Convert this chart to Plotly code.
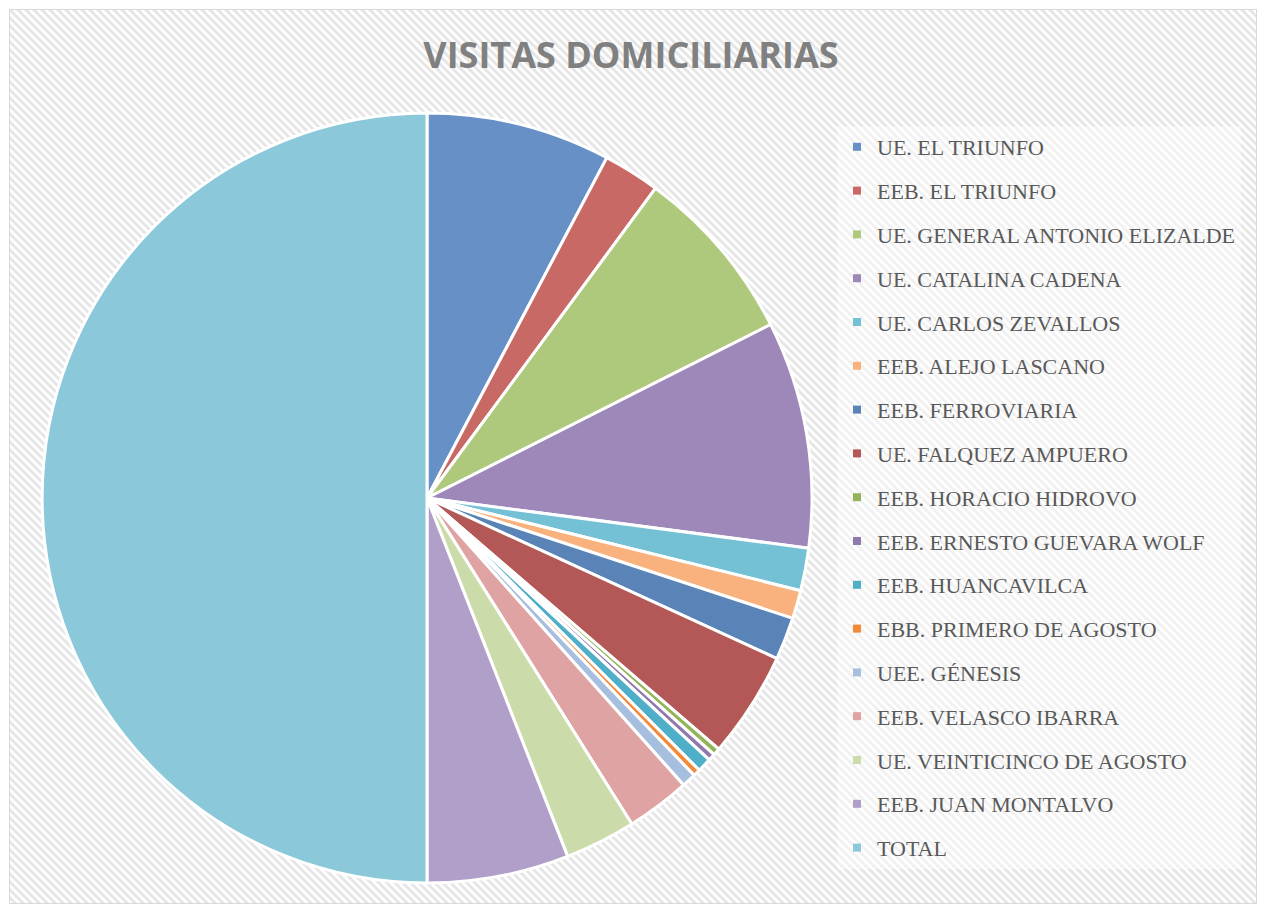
import base64
import plotly.graph_objects as go

categories = [
    "UE. EL TRIUNFO", "EEB. EL TRIUNFO", "UE. GENERAL ANTONIO ELIZALDE",
    "UE. CATALINA CADENA", "UE. CARLOS ZEVALLOS", "EEB. ALEJO LASCANO",
    "EEB. FERROVIARIA", "UE. FALQUEZ AMPUERO", "EEB. HORACIO HIDROVO",
    "EEB. ERNESTO GUEVARA WOLF", "EEB. HUANCAVILCA", "EBB. PRIMERO DE AGOSTO",
    "UEE. GÉNESIS", "EEB. VELASCO IBARRA", "UE. VEINTICINCO DE AGOSTO",
    "EEB. JUAN MONTALVO", "TOTAL",
]
visitas = [26, 8, 25, 32, 6, 4, 6, 15, 1, 1, 2, 1, 2, 9, 10, 20, 168]

colors = [
    "#6790c6", "#c96966", "#afc97c", "#9d88b9", "#74c1d5", "#f9b27e",
    "#5a84b8", "#b35856", "#93b55a", "#8f79ad", "#4fafc8", "#f38a3a",
    "#a7bfdf", "#dea3a2", "#cbdcaa", "#b09fc8", "#8ac8da",
]

W, H = 1262, 906
bx0, by0, bx1, by1 = 9, 9, 1257, 904
bw, bh = bx1 - bx0, by1 - by0

svg = (
    f'<svg xmlns="http://www.w3.org/2000/svg" width="{bw}" height="{bh}">'
    '<defs><pattern id="p" width="8" height="8" patternUnits="userSpaceOnUse">'
    '<rect width="8" height="8" fill="#ffffff"/>'
    '<path d="M-2,-2 L10,10 M-2,6 L2,10 M6,-2 L10,2" stroke="#e6e6e6" stroke-width="3"/>'
    '</pattern></defs>'
    f'<rect x="0" y="0" width="{bw}" height="{bh}" fill="url(#p)"/>'
    f'<rect x="0.5" y="0.5" width="{bw-1}" height="{bh-1}" fill="none" stroke="#d9d9d9" stroke-width="1"/>'
    '</svg>'
)
src = "data:image/svg+xml;base64," + base64.b64encode(svg.encode()).decode()

fig = go.Figure()
fig.add_trace(go.Pie(
    labels=categories, values=visitas, sort=False, direction="clockwise",
    rotation=0, textinfo="none", hoverinfo="label+value+percent",
    marker=dict(colors=colors, line=dict(color="white", width=3)),
    showlegend=False,
    domain=dict(x=[42 / W, 812 / W], y=[1 - 883 / H, 1 - 113 / H]),
))
for i, (c, col) in enumerate(zip(categories, colors)):
    fig.add_trace(go.Scatter(
        x=[None], y=[None], mode="markers", name=c, legendgroup=f"g{i}",
        marker=dict(symbol="square", size=8, color=col),
        showlegend=True, hoverinfo="skip",
    ))

fig.update_layout(
    width=W, height=H,
    margin=dict(l=0, r=0, t=0, b=0),
    paper_bgcolor="white", plot_bgcolor="rgba(0,0,0,0)",
    xaxis=dict(visible=False), yaxis=dict(visible=False),
    title=dict(text="<b>VISITAS DOMICILIARIAS</b>", x=0.5, xanchor="center",
               y=1 - 55 / H, yanchor="middle",
               font=dict(family="Open Sans", size=36, color="#808080")),
    legend=dict(
        x=837 / W, xanchor="left", y=1 - 126 / H, yanchor="top",
        font=dict(family="Liberation Serif", size=22, color="#595959"),
        bgcolor="rgba(255,255,255,0.45)", borderwidth=0,
        traceorder="grouped", tracegroupgap=12.2,
    ),
    images=[dict(source=src, xref="paper", yref="paper",
                 x=bx0 / W, y=1 - by0 / H, sizex=bw / W, sizey=bh / H,
                 xanchor="left", yanchor="top", sizing="stretch", layer="below")],
)

fig.write_html("out.html", config={"displayModeBar": False},
               post_script="document.body.style.margin='0';")
